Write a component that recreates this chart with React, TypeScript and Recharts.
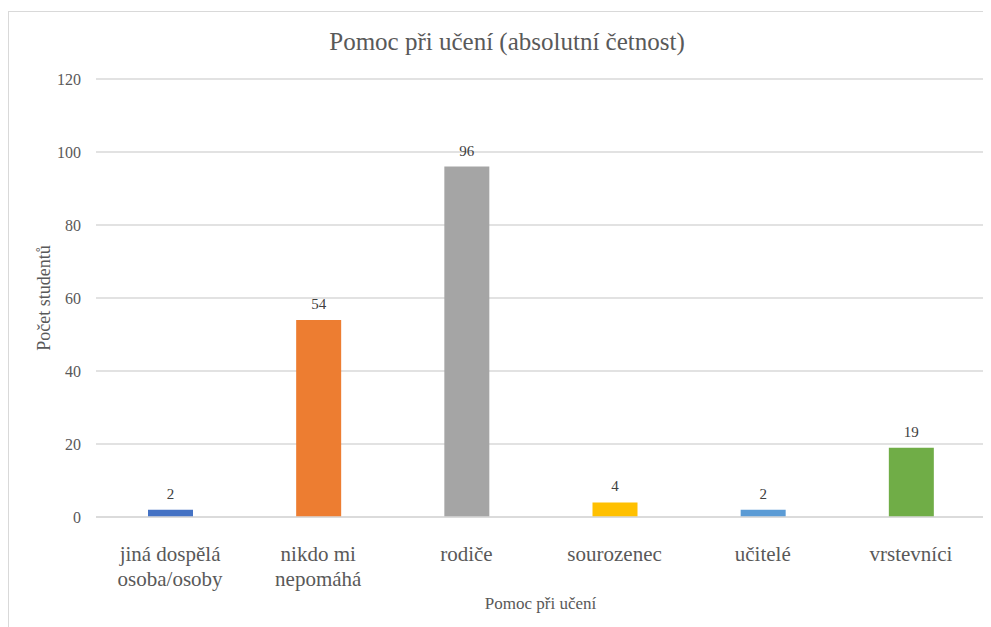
import React from 'react';
import { BarChart, Bar, XAxis, YAxis, CartesianGrid, Cell, LabelList } from 'recharts';

const categories = ['jiná dospělá osoba/osoby', 'nikdo mi nepomáhá', 'rodiče', 'sourozenec', 'učitelé', 'vrstevníci'];
const tickLines = [['jiná dospělá', 'osoba/osoby'], ['nikdo mi', 'nepomáhá'], ['rodiče'], ['sourozenec'], ['učitelé'], ['vrstevníci']];
const counts = [2, 54, 96, 4, 2, 19];
const yTicks = [0, 20, 40, 60, 80, 100, 120];
const COLORS = ['#4472c4', '#ed7d31', '#a5a5a5', '#ffc000', '#5b9bd5', '#70ad47'];

const data = categories.map((name, i) => ({ name, value: counts[i] }));

const FONT = '"Liberation Serif", "Times New Roman", serif';

const CategoryTick = (props: any) => {
  const { x, y, payload } = props;
  const lines = tickLines[payload.index] || [payload.value];
  return (
    <text x={x} y={y} textAnchor="middle" fill="#595959" fontSize={21} fontFamily={FONT}>
      {lines.map((l, i) => (
        <tspan key={i} x={x} dy={i === 0 ? 36 : 25}>{l}</tspan>
      ))}
    </text>
  );
};

export default function App() {
  return (
    <div style={{
      position: 'relative', width: 983, height: 616, marginTop: 3,
      borderTop: '1px solid #d9d9d9', borderLeft: '1px solid #d9d9d9', fontFamily: FONT,
    }}>
      <div style={{
        position: 'absolute', left: 0, width: 996, top: 17, textAlign: 'center',
        fontSize: 25, lineHeight: '25px', color: '#595959', fontFamily: FONT,
      }}>
        Pomoc při učení (absolutní četnost)
      </div>
      <BarChart width={982} height={615} data={data} margin={{ top: 67, right: 6, left: 0, bottom: 0 }}>
        <CartesianGrid vertical={false} stroke="#d9d9d9" strokeWidth={1.3} />
        <XAxis
          dataKey="name"
          height={110}
          interval={0}
          axisLine={{ stroke: '#d9d9d9', strokeWidth: 1.3 }}
          tickLine={false}
          tick={<CategoryTick />}
          label={{ value: 'Pomoc při učení', position: 'insideBottom', offset: 18, fill: '#595959', fontSize: 17, fontFamily: FONT }}
        />
        <YAxis
          width={87}
          domain={[0, 120]}
          ticks={yTicks}
          axisLine={false}
          tickLine={false}
          tickSize={0}
          tickMargin={15}
          tick={{ fill: '#595959', fontSize: 16, fontFamily: FONT }}
          label={{ value: 'Počet studentů', angle: -90, position: 'insideLeft', offset: 35, fill: '#595959', fontSize: 18, fontFamily: FONT, style: { textAnchor: 'middle' } }}
        />
        <Bar dataKey="value" barSize={45} isAnimationActive={false}>
          {data.map((d, i) => (
            <Cell key={d.name} fill={COLORS[i]} />
          ))}
          <LabelList dataKey="value" position="top" offset={11} fill="#404040" fontSize={15} fontFamily={FONT} />
        </Bar>
      </BarChart>
    </div>
  );
}
